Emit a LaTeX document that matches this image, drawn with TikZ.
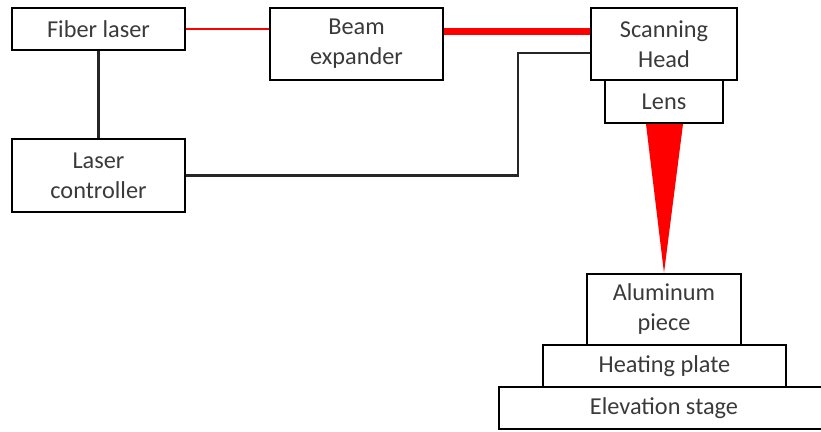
\documentclass[tikz,border=0pt]{standalone}
\usepackage{fontspec}
\setmainfont{Carlito}
\usepackage{xcolor}
\usepackage{tikz}
\usetikzlibrary{positioning,calc}
\definecolor{txtgray}{HTML}{3A3A3A}
\tikzset{
  unitbox/.style={draw, line width=2.4pt, inner sep=0pt, align=center,
    text=txtgray, font=\fontsize{24.3}{30}\selectfont},
  beamthin/.style={draw=red, line width=2.8pt},
  beamthick/.style={draw=red, line width=7pt},
  wire/.style={line width=2.2pt, draw=black!85},
}

\begin{document}
\begin{tikzpicture}[x=1pt, y=-1pt]
  \useasboundingbox (0,0) rectangle (821,431);

  \node[unitbox, minimum width=173pt, minimum height=42pt] (fiber) at (98.5,29) {Fiber laser};
  \node[unitbox, minimum width=173pt, minimum height=72pt] (expander) at (356.5,44) {Beam\\expander};
  \node[unitbox, minimum width=146pt, minimum height=72pt] (head) at (664,44) {Scanning\\Head};
  \node[unitbox, minimum width=118pt, minimum height=43pt] (lens) at (664,101.5) {Lens};
  \node[unitbox, minimum width=173pt, minimum height=73pt] (ctrl) at (98.5,175.5) {Laser\\controller};

  \node[unitbox, minimum width=154pt, minimum height=71pt] (alu) at (664,309.5) {Aluminum\\piece};
  \node[unitbox, minimum width=243pt, minimum height=42pt] (plate) at (664.5,366) {Heating plate};
  \node[unitbox, minimum width=330pt, minimum height=42pt] (stage) at (664,408) {Elevation stage};

  % beam path
  \draw[beamthin] (fiber.east) -- (fiber.east -| expander.west);
  \draw[beamthick] ([yshift=13pt]head.west -| expander.east) -- ([yshift=13pt]head.west);
  \fill[red] ([xshift=-18pt]lens.south) -- ([xshift=19pt]lens.south) -- (alu.north) -- cycle;

  % control wires
  \draw[wire] (fiber) -- (ctrl);
  \draw[wire] (ctrl.east) -| ([xshift=-72pt,yshift=-9pt]head.west) -- ([yshift=-9pt]head.west);
\end{tikzpicture}
\end{document}
